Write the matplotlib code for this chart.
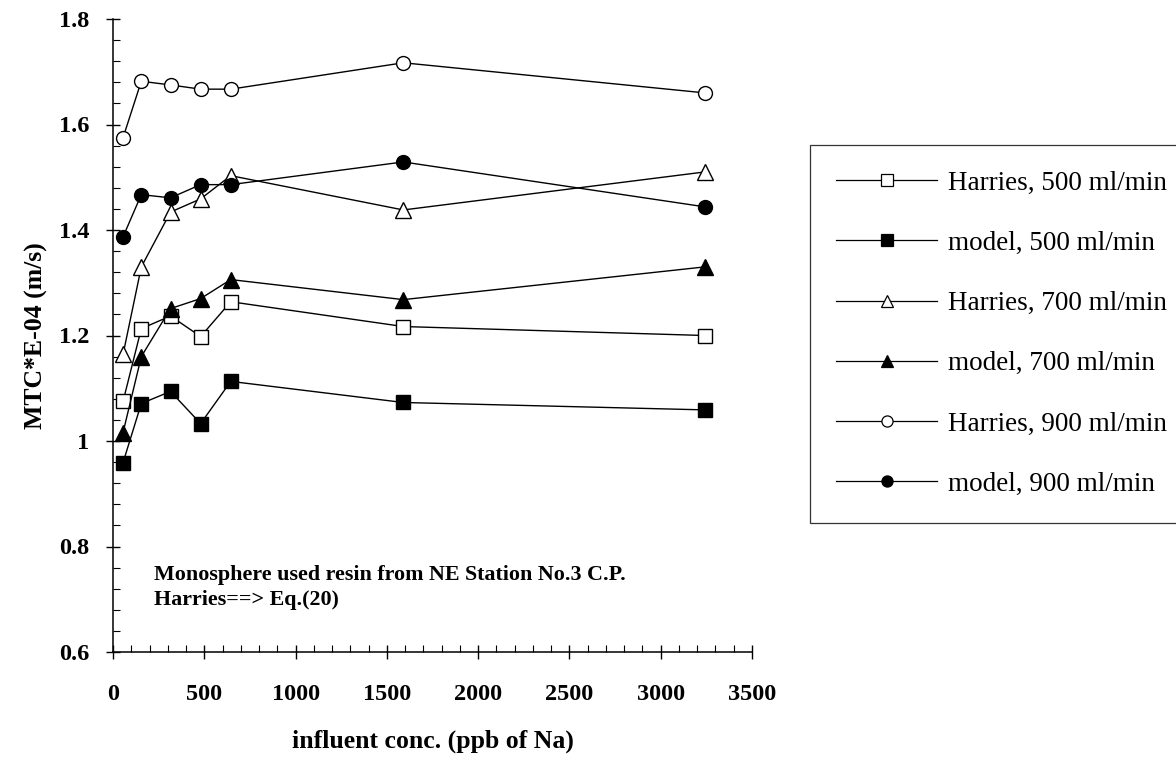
import matplotlib
matplotlib.use("Agg")
import matplotlib.pyplot as plt
from matplotlib.ticker import MultipleLocator, FixedLocator

# influent Na concentration (ppb)
conc = [55, 155, 315, 480, 645, 1590, 3240]

# mass transfer coefficient, MTC * 1E-04 (m/s)
harries_500 = [1.075, 1.213, 1.237, 1.198, 1.264, 1.217, 1.200]
model_500 = [0.959, 1.071, 1.094, 1.033, 1.113, 1.073, 1.059]
harries_700 = [1.164, 1.330, 1.434, 1.459, 1.503, 1.438, 1.510]
model_700 = [1.016, 1.160, 1.251, 1.270, 1.306, 1.268, 1.330]
harries_900 = [1.575, 1.682, 1.675, 1.667, 1.667, 1.717, 1.660]
model_900 = [1.387, 1.467, 1.461, 1.486, 1.486, 1.529, 1.444]

series_labels = ["Harries, 500 ml/min", "model, 500 ml/min",
                 "Harries, 700 ml/min", "model, 700 ml/min",
                 "Harries, 900 ml/min", "model, 900 ml/min"]
x_ticks = [0, 500, 1000, 1500, 2000, 2500, 3000, 3500]
y_ticks = [0.6, 0.8, 1.0, 1.2, 1.4, 1.6, 1.8]
y_tick_labels = ["0.6", "0.8", "1", "1.2", "1.4", "1.6", "1.8"]

plt.rcParams["font.family"] = ["Liberation Serif", "DejaVu Serif"]

fig = plt.figure(figsize=(11.76, 7.59), dpi=100)
ax = fig.add_axes([113 / 1176, 1 - 652 / 759, (752 - 113) / 1176, (652 - 19) / 759])

styles = [
    ("s", "white"), ("s", "black"),
    ("^", "white"), ("^", "black"),
    ("o", "white"), ("o", "black"),
]
data = [harries_500, model_500, harries_700, model_700, harries_900, model_900]

handles = []
for (mk, fc), ys, lab in zip(styles, data, series_labels):
    ax.plot(conc, ys, color="black", lw=1.0, marker=mk, ms=10 if mk != "^" else 11,
            mfc=fc, mec="black", mew=1.0, label=lab)
    h, = ax.plot([], [], color="black", lw=0.9, marker=mk, ms=8,
                 mfc=fc, mec="black", mew=0.9, label=lab)
    handles.append(h)

ax.set_xlim(0, 3500)
ax.set_ylim(0.6, 1.8)
ax.xaxis.set_major_locator(FixedLocator(x_ticks))
ax.xaxis.set_minor_locator(MultipleLocator(100))
ax.yaxis.set_major_locator(FixedLocator(y_ticks))
ax.yaxis.set_minor_locator(MultipleLocator(0.04))
ax.set_yticklabels(y_tick_labels)

for side in ("top", "right"):
    ax.spines[side].set_visible(False)
for side in ("left", "bottom"):
    ax.spines[side].set_linewidth(1.1)

ax.tick_params(which="major", direction="inout", length=10, width=1.0,
               labelsize=17.5)
ax.tick_params(axis="y", which="major", pad=12)
ax.tick_params(axis="x", which="major", pad=18)
ax.tick_params(which="minor", direction="in", length=5, width=0.8)
for t in ax.get_xticklabels() + ax.get_yticklabels():
    t.set_fontweight("bold")

ax.set_xlabel("influent conc. (ppb of Na)", fontsize=18.5, fontweight="bold", labelpad=18)
ax.set_ylabel("MTC*E-04 (m/s)", fontsize=18.5, fontweight="bold", labelpad=8)

ax.text(225, 0.764, "Monosphere used resin from NE Station No.3 C.P.\nHarries==> Eq.(20)",
        fontsize=15.8, fontweight="bold", ha="left", va="top", linespacing=1.3)

leg = fig.legend(handles=handles, labels=series_labels,
                 loc="upper left", bbox_to_anchor=(810 / 1176, 1 - 145 / 759),
                 fontsize=19.5, frameon=True, fancybox=False, edgecolor="black",
                 handlelength=3.75, handletextpad=0.4, borderpad=0.95,
                 labelspacing=1.3, borderaxespad=0)
leg.get_frame().set_linewidth(0.9)

fig.savefig("out.png", dpi=100, facecolor="white")
